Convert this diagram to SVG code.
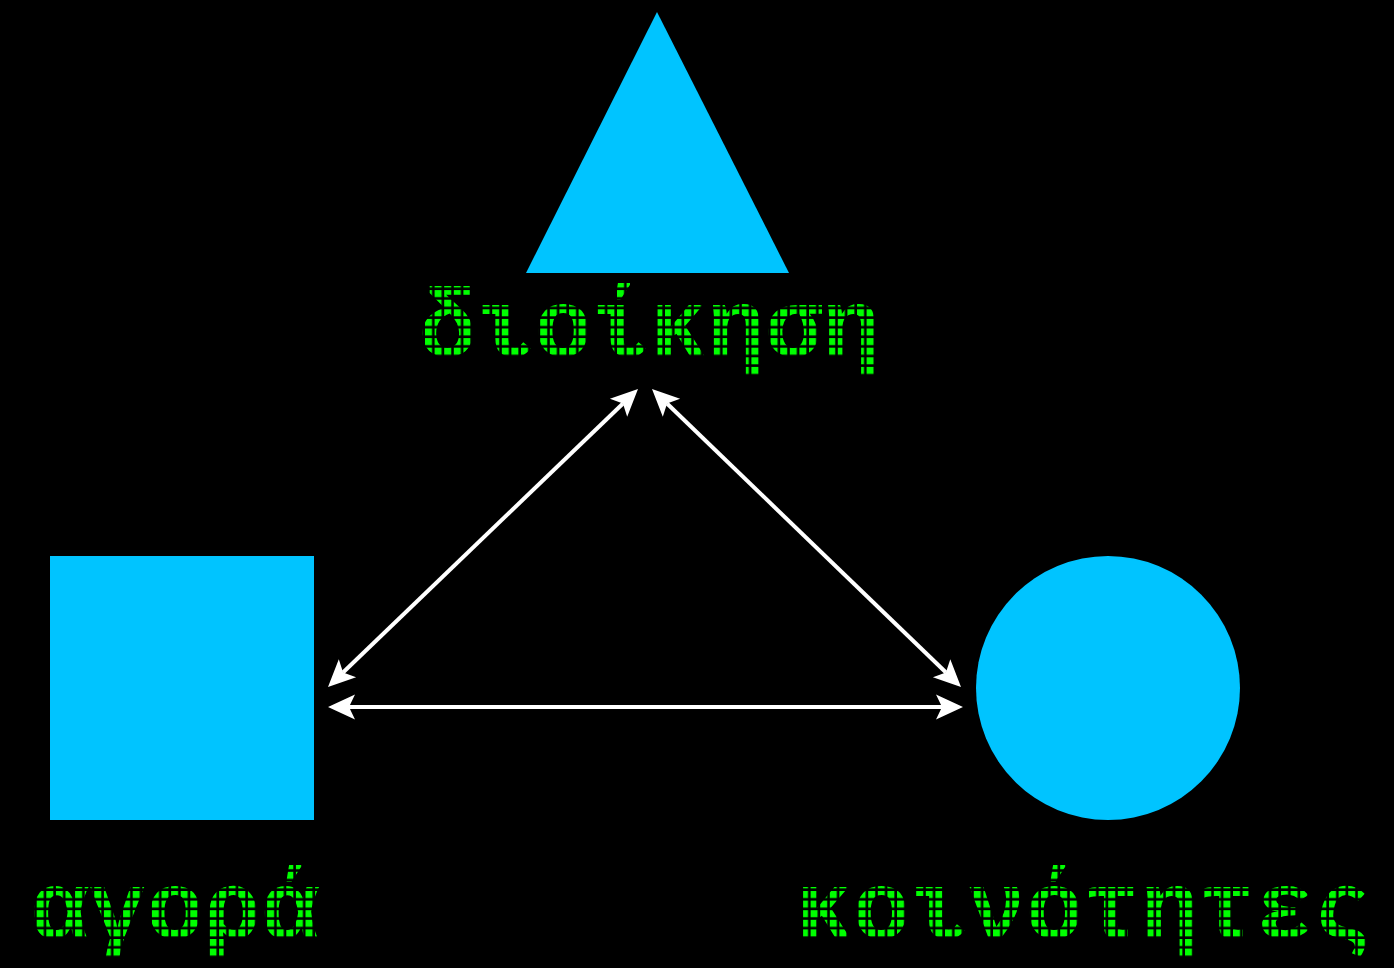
<svg xmlns="http://www.w3.org/2000/svg" width="1394" height="968" viewBox="0 0 1394 968">
<defs>
<style>
.shape{fill:#00c4ff}
.lbl{font-family:"Liberation Mono","DejaVu Sans Mono",monospace;font-size:96px;font-weight:bold}
.conn{stroke:#ffffff;stroke-width:4;fill:none}
.head{fill:#ffffff}
</style>
<pattern id="dotsA" patternUnits="userSpaceOnUse" x="425" y="309.3" width="9.6" height="9.6">
<rect x="0" y="0" width="7" height="7" fill="#00ff00"/>
</pattern>
<pattern id="dotsB" patternUnits="userSpaceOnUse" x="36.7" y="891" width="9.6" height="9.6">
<rect x="0" y="0" width="7" height="7" fill="#00ff00"/>
</pattern>
<pattern id="dotsC" patternUnits="userSpaceOnUse" x="801" y="891" width="9.6" height="9.6">
<rect x="0" y="0" width="7" height="7" fill="#00ff00"/>
</pattern>
</defs>
<rect width="1394" height="968" fill="#000000"/>
<g id="connectors">
<line class="conn" x1="343" y1="672.5" x2="623" y2="403.5"/>
<polygon class="head" points="638,389 627.2,416.7 622.9,403.6 609.9,398.7"/>
<polygon class="head" points="328,687 338.8,659.3 343.1,672.5 356.1,677.3"/>
<line class="conn" x1="667" y1="403.5" x2="946" y2="672.5"/>
<polygon class="head" points="652,389 680.1,398.7 667.1,403.6 662.8,416.7"/>
<polygon class="head" points="961,687 932.9,677.3 945.9,672.4 950.3,659.3"/>
<line class="conn" x1="348" y1="707" x2="943" y2="707"/>
<polygon class="head" points="328,707 355,694.5 349,707 355,719.5"/>
<polygon class="head" points="963,707 936,694.5 942,707 936,719.5"/>
</g>
<g id="node-dioikisi">
<polygon class="shape" points="657,12 789,273 526,273"/>
<text class="lbl" x="419" y="356" fill="url(#dotsA)">διοίκηση</text>
</g>
<g id="node-agora">
<rect class="shape" x="50" y="556" width="264" height="264"/>
<text class="lbl" x="31" y="938" fill="url(#dotsB)">αγορά</text>
</g>
<g id="node-koinotites">
<circle class="shape" cx="1108" cy="688" r="132"/>
<text class="lbl" x="795" y="938" fill="url(#dotsC)">κοινότητες</text>
</g>
</svg>
